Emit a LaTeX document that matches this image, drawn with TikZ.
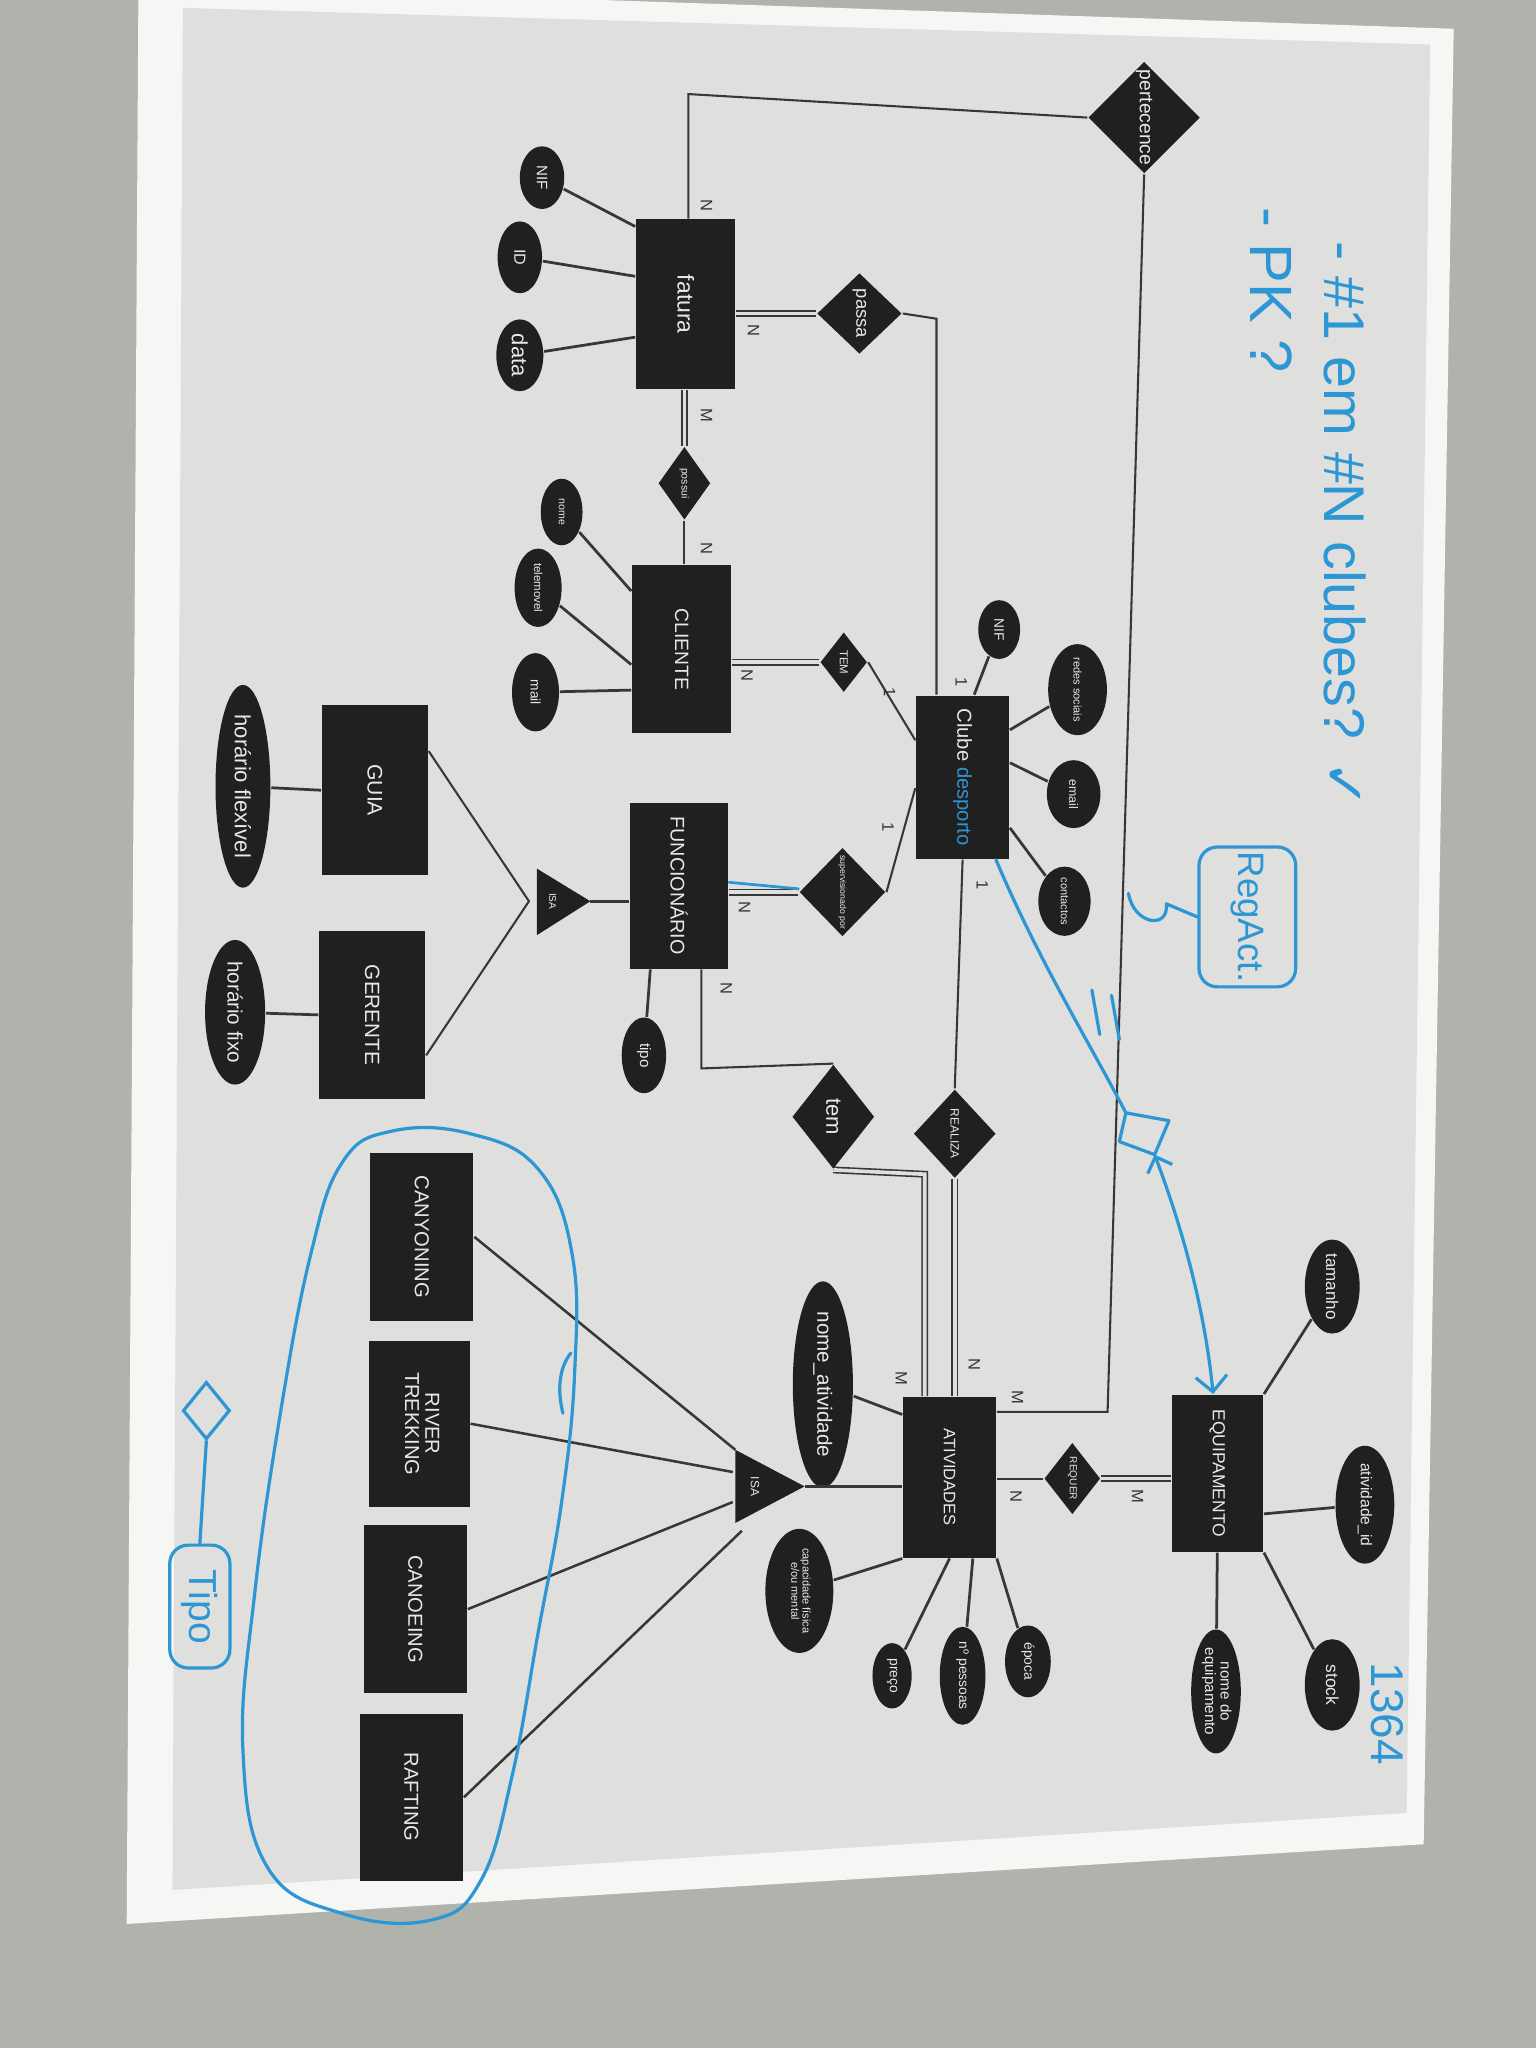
\documentclass[tikz,border=0pt]{standalone}
\usepackage{fontspec}
\setmainfont{Liberation Sans}
\newfontfamily\dejavu{DejaVu Sans}
\usepackage{graphicx}
\usetikzlibrary{shapes.geometric,arrows.meta}
\definecolor{table}{RGB}{176,178,172}
\definecolor{paper}{RGB}{246,246,244}
\definecolor{printgray}{RGB}{223,223,221}
\definecolor{erblack}{RGB}{32,32,32}
\definecolor{erline}{RGB}{55,55,55}
\definecolor{boxtext}{RGB}{232,232,232}
\definecolor{ink}{RGB}{45,150,212}
\newcommand{\vt}[1]{\rotatebox{-90}{#1}}
\newcommand{\vtt}[2]{\rotatebox{-90}{\begin{tabular}{@{}c@{}}#1\\#2\end{tabular}}}
\newcommand{\fsz}[1]{\fontsize{#1}{#1}\selectfont}

\begin{document}
\begin{tikzpicture}[x=0.01cm,y=-0.01cm]
    \tikzset{ent/.style 2 args={rectangle, fill=erblack, text=boxtext, inner sep=0pt, minimum width=#1*0.01cm, minimum height=#2*0.01cm},
      rel/.style 2 args={diamond, fill=erblack, text=boxtext, inner sep=0pt, minimum width=#1*0.01cm, minimum height=#2*0.01cm},
      att/.style 2 args={ellipse, fill=erblack, text=boxtext, inner sep=0pt, minimum width=#1*0.01cm, minimum height=#2*0.01cm},
      card/.style={text=erline, inner sep=0pt, font=\fsz{3.6}},
      link/.style={draw=erline, line width=0.45pt},
      attl/.style={draw=erline, line width=0.6pt},
      total/.style={draw=erline, line width=0.35pt, double=printgray, double distance=0.8pt},
      ink/.style={draw=ink, line width=0.7pt, line cap=round, line join=round},
      note/.style={text=ink, inner sep=1pt}}
\useasboundingbox (0,0) rectangle (1176,1568);
\clip (0,0) rectangle (1176,1568);
\fill[table] (-10,-10) rectangle (1186,1578);
\fill[paper] (106,-12) -- (1113,22) -- (1090,1412) -- (97,1473) -- cycle;
\fill[printgray] (140,6) -- (1095,34) -- (1077,1388) -- (132,1447) -- cycle;

% entidades
\node[ent={76}{130}, font=\fsz{5}] (fatura) at (525,233) {\vt{fatura}};
\node[ent={76}{129}, font=\fsz{4.2}] (cliente) at (522,497) {\vt{CLIENTE}};
\node[ent={75}{127}, font=\fsz{4.3}] (func) at (520,678) {\vt{FUNCIONÁRIO}};
\node[ent={71}{125}, font=\fsz{4.4}] (clube) at (737,595) {\vt{Clube \textcolor{ink}{desporto}}};
\node[ent={81}{130}, font=\fsz{4.6}] (guia) at (287,605) {\vt{GUIA}};
\node[ent={81}{129}, font=\fsz{4.5}] (gerente) at (285,777) {\vt{GERENTE}};
\node[ent={79}{129}, font=\fsz{4.4}] (canyon) at (323,947) {\vt{CANYONING}};
\node[ent={77}{127}, font=\fsz{4.4}] (river) at (321,1090) {\vtt{RIVER}{TREKKING}};
\node[ent={79}{129}, font=\fsz{4.4}] (canoe) at (318,1232) {\vt{CANOEING}};
\node[ent={79}{128}, font=\fsz{4.4}] (raft) at (315,1376) {\vt{RAFTING}};
\node[ent={71}{123}, font=\fsz{3.6}] (ativ) at (727,1131) {\vt{ATIVIDADES}};
\node[ent={70}{120}, font=\fsz{3.8}] (equip) at (932,1128) {\vt{EQUIPAMENTO}};

% relacoes
\node[rel={60}{78}, font=\fsz{4.2}] (pert) at (876,90) {\vt{pertecence}};
\node[rel={65}{62}, font=\fsz{4}] (passa) at (658,240) {\vt{passa}};
\node[rel={40}{56}, font=\fsz{2.3}] (possui) at (524,370) {\vt{possui}};
\node[rel={36}{46}, font=\fsz{2.5}] (tem1) at (646,507) {\vt{TEM}};
\node[rel={66}{68}, font=\fsz{1.9}] (superv) at (645,683) {\vt{supervisionado por}};
\node[rel={63}{80}, font=\fsz{4.8}] (tem2) at (638,855) {\vt{tem}};
\node[rel={63}{68}, font=\fsz{2.6}] (realiza) at (731,868) {\vt{REALIZA}};
\node[rel={43}{55}, font=\fsz{2.2}] (requer) at (821,1132) {\vt{REQUER}};

% atributos
\node[att={34}{48}, font=\fsz{3.3}] (fNIF) at (415,136) {\vt{NIF}};
\node[att={34}{55}, font=\fsz{3.5}] (fID) at (398,197) {\vt{ID}};
\node[att={36}{55}, font=\fsz{4.8}] (fData) at (398,272) {\vt{data}};
\node[att={32}{51}, font=\fsz{2.3}] (cNome) at (430,392) {\vt{nome}};
\node[att={36}{60}, font=\fsz{2.5}] (cTele) at (412,450) {\vt{telemovel}};
\node[att={36}{60}, font=\fsz{3}] (cMail) at (410,530) {\vt{mail}};
\node[att={32}{45}, font=\fsz{3}] (kNIF) at (765,482) {\vt{NIF}};
\node[att={45}{63}, font=\fsz{2.4}] (kRedes) at (825,528) {\vt{redes sociais}};
\node[att={41}{52}, font=\fsz{2.7}] (kEmail) at (822,608) {\vt{email}};
\node[att={40}{53}, font=\fsz{2.4}] (kCont) at (815,690) {\vt{contactos}};
\node[att={34}{58}, font=\fsz{3.3}] (tipo) at (493,808) {\vt{tipo}};
\node[att={42}{133}, font=\fsz{4.8}] (hFlex) at (186,602) {\vt{horário flexível}};
\node[att={46}{94}, font=\fsz{4.5}] (hFixo) at (180,775) {\vt{horário fixo}};
\node[att={46}{140}, font=\fsz{4.5}] (aNome) at (630,1060) {\vt{nome\_atividade}};
\node[att={52}{95}, font=\fsz{2.4}] (aCap) at (612,1218) {\vtt{capacidade física}{e/ou mental}};
\node[att={30}{50}, font=\fsz{3}] (aPreco) at (683,1283) {\vt{preço}};
\node[att={35}{75}, font=\fsz{3}] (aPess) at (737,1283) {\vt{nº pessoas}};
\node[att={35}{55}, font=\fsz{3}] (aEpoca) at (787,1272) {\vt{época}};
\node[att={42}{72}, font=\fsz{3.7}] (eTam) at (1020,985) {\vt{tamanho}};
\node[att={45}{75}, font=\fsz{3.4}] (eAtId) at (1045,1152) {\vt{atividade\_id}};
\node[att={42}{70}, font=\fsz{3.8}] (eStock) at (1020,1290) {\vt{stock}};
\node[att={38}{80}, font=\fsz{3.3}] (eNome) at (931,1295) {\vtt{nome do}{equipamento}};

% isa
\coordinate (isa1a) at (411,665); \coordinate (isa1b) at (411,716); \coordinate (isa1tip) at (452,690);
\coordinate (isa1v) at (405,690);
\fill[erblack] (isa1a) -- (isa1b) -- (isa1tip) -- cycle;
\node[font=\fsz{2.2}, text=boxtext, inner sep=0pt] (isa1) at (423,690) {\vt{ISA}};
\coordinate (isa2a) at (563,1110); \coordinate (isa2b) at (563,1166); \coordinate (isa2tip) at (616,1138);
\fill[erblack] (isa2a) -- (isa2b) -- (isa2tip) -- cycle;
\node[font=\fsz{2.6}, text=boxtext, inner sep=0pt] (isa2) at (578,1138) {\vt{ISA}};
\coordinate (isa2r1) at (561,1127); \coordinate (isa2r2) at (561,1150); \coordinate (isa2r3) at (568,1172);

% ligacoes
\coordinate (pertC) at (527,72); \coordinate (pertD) at (848,1081);
\coordinate (passaC) at (717,244); \coordinate (fT) at (537,818); \coordinate (tA) at (708,899);
\draw[link] (pert.west) -- (pertC) -- (pertC |- fatura.north);
\draw[link] (pert.south) -- (pertD) -- (pertD -| ativ.east);
\draw[total] (passa.west) -- (passa.west -| fatura.east);
\draw[link] (passa.east) -- (passaC) -- (passaC |- clube.north);
\draw[total] (possui.north) -- (possui.north |- fatura.south);
\draw[link] (possui.south) -- (possui.south |- cliente.north);
\draw[total] (tem1.west) -- (tem1.west -| cliente.east);
\draw[link] (tem1.east) -- (clube.142);
\draw[total] (superv.west) -- (superv.west -| func.east);
\draw[link] (superv.east) -- (clube.193);
\draw[link] (clube.south) -- (realiza.north);
\draw[total] (realiza.south) -- (realiza.south |- ativ.north);
\draw[link] (func.south -| fT) -- (fT) -- (tem2.north);
\draw[total] (tem2.south) -- (tA) -- (tA |- ativ.north);
\draw[link] (requer.west) -- (requer.west -| ativ.east);
\draw[total] (requer.east) -- (requer.east -| equip.west);
\draw[attl] (isa1tip) -- (isa1tip -| func.west);
\draw[attl, line width=0.8pt] (isa2tip) -- (isa2tip -| ativ.west);
\draw[link] (guia.36) -- (isa1v) -- (gerente.323);
\draw[link, line width=0.55pt] (canyon.east) -- (isa2a);
\draw[link, line width=0.55pt] (river.east) -- (isa2r1);
\draw[link, line width=0.55pt] (canoe.east) -- (isa2r2);
\draw[link, line width=0.55pt] (raft.east) -- (isa2r3);
\draw[attl] (fNIF) -- (fatura.123);
\draw[attl] (fID) -- (fatura.151);
\draw[attl] (fData) -- (fatura.213);
\draw[attl] (cNome) -- (cliente.131);
\draw[attl] (cTele) -- (cliente.197);
\draw[attl] (cMail) -- (cliente.219);
\draw[attl] (kNIF) -- (clube.82);
\draw[attl] (kRedes) -- (clube.45);
\draw[attl] (kEmail) -- (clube.17);
\draw[attl] (kCont) -- (clube.313);
\draw[attl] (tipo) -- (func.251);
\draw[attl] (hFlex) -- (guia.west);
\draw[attl] (hFixo) -- (gerente.west);
\draw[attl] (aNome) -- (ativ.127);
\draw[attl] (aCap) -- (ativ.south west);
\draw[attl] (aPreco) -- (ativ.south);
\draw[attl] (aPess) -- (ativ.286);
\draw[attl] (aEpoca) -- (ativ.south east);
\draw[attl] (eTam) -- (equip.north east);
\draw[attl] (eAtId) -- (equip.319);
\draw[attl] (eStock) -- (equip.south east);
\draw[attl] (eNome) -- (equip.south);

% cardinalidades
\node[card] (c1) at (541,157) {\vt{N}};
\node[card] (c2) at (577,253) {\vt{N}};
\node[card] (c3) at (541,318) {\vt{M}};
\node[card] (c4) at (541,420) {\vt{N}};
\node[card] (c5) at (572,517) {\vt{N}};
\node[card] (c6) at (681,530) {\vt{1}};
\node[card] (c7) at (736,522) {\vt{1}};
\node[card] (c8) at (680,633) {\vt{1}};
\node[card] (c9) at (570,695) {\vt{N}};
\node[card] (c10) at (752,678) {\vt{1}};
\node[card] (c11) at (556,757) {\vt{N}};
\node[card] (c12) at (690,1055) {\vt{M}};
\node[card] (c13) at (746,1045) {\vt{N}};
\node[card] (c14) at (779,1070) {\vt{M}};
\node[card] (c15) at (778,1146) {\vt{N}};
\node[card] (c16) at (871,1146) {\vt{M}};

% notas a caneta
\draw[ink, line width=0.6pt] ([yshift=0.025cm]func.east) -- ([yshift=0.025cm]superv.west);
\node[note, font=\fsz{12.5}] (nClubes) at (1030,402) {\vt{- \#1 em \#N clubes? {\dejavu ✓}}};
\node[note, font=\fsz{13}] (nPK) at (973,222) {\vt{- PK ?}};
\node[note, font=\fsz{8}, draw=ink, line width=0.7pt, rounded corners=4pt, minimum width=0.74cm, minimum height=0.96cm] (regAct) at (955,702) {\vt{RegAct.}};
\coordinate (jA) at (893,692);
\draw[ink] (regAct.west) -- (jA) .. controls (895,712) and (868,708) .. (864,684);
\coordinate (qa) at (862,852); \coordinate (qb) at (895,858); \coordinate (qc) at (884,884); \coordinate (qd) at (857,874);
\draw[ink, {Straight Barb[length=1mm]}-{Straight Barb[length=1.2mm]}] (clube.292) .. controls (795,735) and (835,800) .. (qa) -- (qb) -- (qc) -- (qd) -- (qa) (qc) .. controls (905,940) and (922,1000) .. (equip.93);
\draw[ink] (836,758) -- (842,792);
\draw[ink] (851,762) -- (857,796);
\node[note, font=\fsz{10}] (n1364) at (1062,1312) {\vt{1364}};
\draw[ink] plot[smooth cycle, tension=0.7] coordinates {(440,1050) (438,960) (412,895) (360,868) (300,866) (262,890) (238,960) (215,1080) (195,1220) (186,1340) (205,1430) (262,1465) (330,1470) (368,1440) (392,1360) (412,1250) (430,1150)};
\draw[ink] (431,1082) .. controls (426,1062) and (429,1046) .. (437,1036);
\node[diamond, draw=ink, line width=0.7pt, minimum width=0.36cm, minimum height=0.44cm, inner sep=0pt] (tipoRel) at (158,1080) {};
\node[note, font=\fsz{8.5}, draw=ink, line width=0.7pt, rounded corners=4pt, minimum width=0.46cm, minimum height=0.94cm] (tipoBox) at (153,1230) {\vt{Tipo}};
\draw[ink] (tipoRel.south) -- (tipoBox.north);
\end{tikzpicture}
\end{document}
